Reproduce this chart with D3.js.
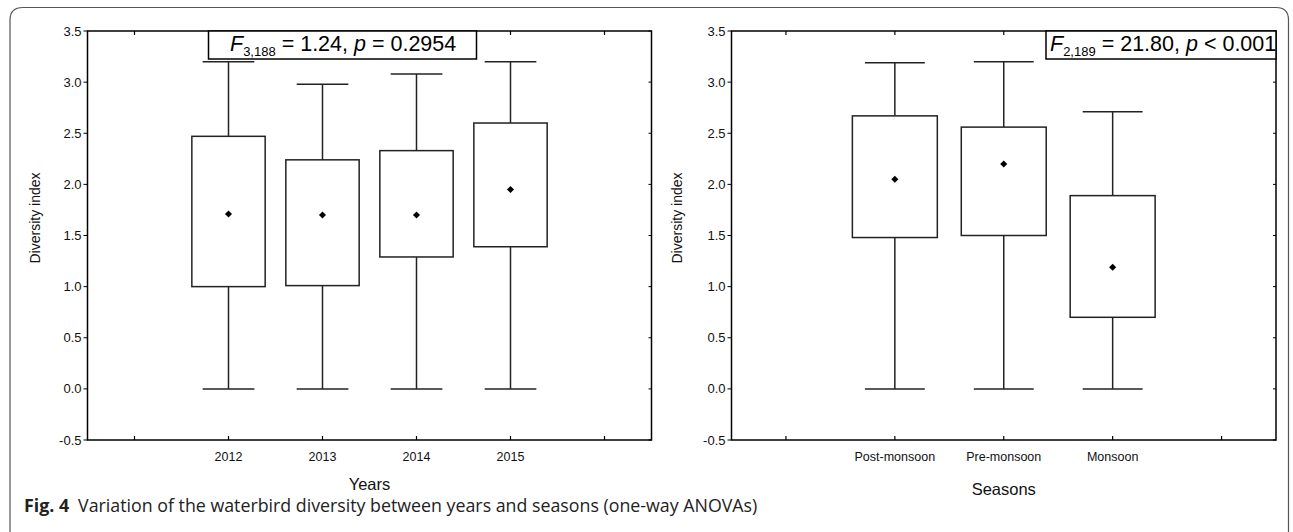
<!DOCTYPE html>
<html>
<head>
<meta charset="utf-8">
<script src="https://cdn.jsdelivr.net/npm/d3@7"></script>
<style>
  body { margin: 0; background: #fff; }
  svg { display: block; }
</style>
</head>
<body>
<div id="chart"></div>
<script>
// Years panel
const years = ["2012", "2013", "2014", "2015"];
const yearMin = [0, 0, 0, 0];
const yearQ1 = [1.00, 1.01, 1.29, 1.39];
const yearMean = [1.71, 1.70, 1.70, 1.95];
const yearQ3 = [2.47, 2.24, 2.33, 2.60];
const yearMax = [3.20, 2.98, 3.08, 3.20];

// Seasons panel
const seasons = ["Post-monsoon", "Pre-monsoon", "Monsoon"];
const seasonMin = [0, 0, 0];
const seasonQ1 = [1.48, 1.50, 0.70];
const seasonMean = [2.05, 2.20, 1.19];
const seasonQ3 = [2.67, 2.56, 1.89];
const seasonMax = [3.19, 3.20, 2.71];

const yTicks = [-0.5, 0, 0.5, 1.0, 1.5, 2.0, 2.5, 3.0, 3.5];

const width = 1293, height = 532;
const plotTop = 31, plotBottom = 440;

const svg = d3.select("#chart")
  .append("svg")
  .attr("width", width)
  .attr("height", height);

// outer frame with rounded top corners (open at the bottom)
svg.append("path")
  .attr("d", "M10,540 L10,20 Q10,7.5 23,7.5 L1276,7.5 Q1288.5,7.5 1288.5,20 L1288.5,540")
  .style("fill", "none")
  .style("stroke", "#555")
  .style("stroke-width", 1.2);

function drawPanel(opt) {
  const x = d3.scaleLinear()
    .domain([-0.5, opt.cats.length + 1.5])
    .range([opt.left, opt.right]);
  const y = d3.scaleLinear()
    .domain([-0.5, 3.5])
    .range([plotBottom, plotTop]);

  const g = svg.append("g");
  const boxHalf = 0.39, capHalf = 0.275;
  const tickValsX = d3.range(0, opt.cats.length + 2);

  // ticks: left outward, others inward
  g.selectAll(".ytl").data(yTicks).enter().append("line")
    .attr("x1", opt.left - 4).attr("x2", opt.left)
    .attr("y1", d => y(d)).attr("y2", d => y(d))
    .style("stroke", "#000").style("stroke-width", 1);
  g.selectAll(".ytr").data(yTicks).enter().append("line")
    .attr("x1", opt.right - 3).attr("x2", opt.right)
    .attr("y1", d => y(d)).attr("y2", d => y(d))
    .style("stroke", "#000").style("stroke-width", 1);
  g.selectAll(".xtb").data(tickValsX).enter().append("line")
    .attr("x1", d => x(d)).attr("x2", d => x(d))
    .attr("y1", plotBottom - 4).attr("y2", plotBottom)
    .style("stroke", "#000").style("stroke-width", 1.2);
  g.selectAll(".xtt").data(tickValsX).enter().append("line")
    .attr("x1", d => x(d)).attr("x2", d => x(d))
    .attr("y1", plotTop).attr("y2", plotTop + 4)
    .style("stroke", "#000").style("stroke-width", 1.2);

  // y tick labels
  g.selectAll(".ylab").data(yTicks).enter().append("text")
    .attr("x", opt.left - 6)
    .attr("y", d => y(d) + 4.5)
    .attr("text-anchor", "end")
    .style("font-family", "Liberation Sans, Arial, sans-serif")
    .style("font-size", "13px")
    .style("fill", "#111")
    .text(d => d.toFixed(1));

  // category labels
  g.selectAll(".xlab").data(opt.cats).enter().append("text")
    .attr("x", (d, i) => x(i + 1))
    .attr("y", 460.5)
    .attr("text-anchor", "middle")
    .style("font-family", "Liberation Sans, Arial, sans-serif")
    .style("font-size", "12.5px")
    .style("fill", "#111")
    .text(d => d);

  // whiskers, boxes, means
  opt.cats.forEach((c, i) => {
    const cx = x(i + 1);
    g.append("line")
      .attr("x1", cx).attr("x2", cx)
      .attr("y1", y(opt.max[i])).attr("y2", y(opt.q3[i]))
      .style("stroke", "#222").style("stroke-width", 1.5);
    g.append("line")
      .attr("x1", cx).attr("x2", cx)
      .attr("y1", y(opt.q1[i])).attr("y2", y(opt.min[i]))
      .style("stroke", "#222").style("stroke-width", 1.5);
    [opt.max[i], opt.min[i]].forEach(v => {
      g.append("line")
        .attr("x1", x(i + 1 - capHalf)).attr("x2", x(i + 1 + capHalf))
        .attr("y1", y(v)).attr("y2", y(v))
        .style("stroke", "#222").style("stroke-width", 1.5);
    });
    g.append("rect")
      .attr("x", x(i + 1 - boxHalf))
      .attr("y", y(opt.q3[i]))
      .attr("width", x(i + 1 + boxHalf) - x(i + 1 - boxHalf))
      .attr("height", y(opt.q1[i]) - y(opt.q3[i]))
      .style("fill", "#fff")
      .style("stroke", "#222")
      .style("stroke-width", 1.5);
    g.append("path")
      .attr("d", d3.symbol(d3.symbolDiamond2, 32)())
      .attr("transform", `translate(${cx},${y(opt.mean[i])})`)
      .style("fill", "#000");
  });

  // frame
  g.append("rect")
    .attr("x", opt.left).attr("y", plotTop)
    .attr("width", opt.right - opt.left)
    .attr("height", plotBottom - plotTop)
    .style("fill", "none")
    .style("stroke", "#000")
    .style("stroke-width", 1.5);

  // axis titles
  svg.append("text")
    .attr("transform", `translate(${opt.yTitleX},218) rotate(-90)`)
    .attr("text-anchor", "middle")
    .attr("dy", "0.35em")
    .style("font-family", "Liberation Sans, Arial, sans-serif")
    .style("font-size", "14px")
    .style("fill", "#111")
    .text("Diversity index");
  svg.append("text")
    .attr("x", (opt.left + opt.right) / 2)
    .attr("y", opt.xTitleY)
    .attr("text-anchor", "middle")
    .style("font-family", "Liberation Sans, Arial, sans-serif")
    .style("font-size", "16.5px")
    .style("fill", "#111")
    .text(opt.xTitle);

  // ANOVA annotation
  g.append("rect")
    .attr("x", opt.statX).attr("y", plotTop)
    .attr("width", opt.statW).attr("height", 28)
    .style("fill", "#fff")
    .style("stroke", "#000")
    .style("stroke-width", 1.5);
  const t = g.append("text")
    .attr("x", opt.statTextX).attr("y", 50.5)
    .style("font-family", "Liberation Sans, Arial, sans-serif")
    .style("font-size", "21.5px")
    .style("fill", "#000");
  t.append("tspan").style("font-style", "italic").text("F");
  t.append("tspan").attr("dy", 5).style("font-size", "13px").text(opt.df);
  t.append("tspan").attr("dy", -5).text(" = " + opt.fVal + ", ");
  t.append("tspan").style("font-style", "italic").text("p");
  t.append("tspan").text(" " + opt.pVal);
}

drawPanel({
  cats: years, min: yearMin, q1: yearQ1, mean: yearMean, q3: yearQ3, max: yearMax,
  left: 87.5, right: 651.5, yTitleX: 35, xTitle: "Years", xTitleY: 490,
  statX: 208.5, statW: 268, statTextX: 230,
  df: "3,188", fVal: "1.24", pVal: "= 0.2954"
});

drawPanel({
  cats: seasons, min: seasonMin, q1: seasonQ1, mean: seasonMean, q3: seasonQ3, max: seasonMax,
  left: 731.5, right: 1276, yTitleX: 677, xTitle: "Seasons", xTitleY: 495,
  statX: 1046, statW: 230, statTextX: 1050,
  df: "2,189", fVal: "21.80", pVal: "< 0.001"
});

// caption
const cap = svg.append("text")
  .attr("x", 24).attr("y", 512)
  .style("font-family", "Open Sans, sans-serif")
  .style("font-size", "17.8px")
  .style("fill", "#222");
cap.append("tspan").style("font-weight", "bold").text("Fig. 4");
cap.append("tspan").attr("dx", 9).text("Variation of the waterbird diversity between years and seasons (one-way ANOVAs)");
</script>
</body>
</html>
